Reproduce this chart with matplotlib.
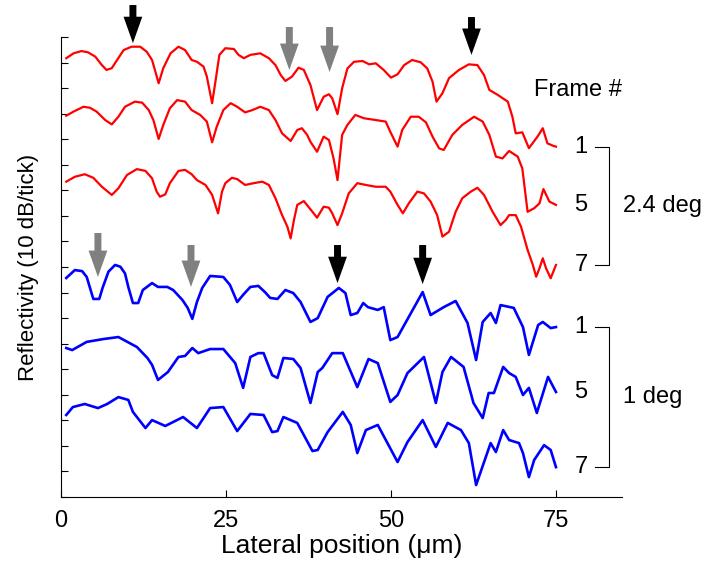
import numpy as np
import matplotlib
matplotlib.use("Agg")
import matplotlib.pyplot as plt

plt.rcParams['font.family'] = ['Liberation Sans', 'DejaVu Sans']

# lateral position (um) and reflectivity (dB) per trace, 2.4 deg scan
red1_x = [0.8, 1.9, 3.1, 4.1, 5.2, 6.2, 6.9, 7.7, 8.5, 9.5, 10.7, 12.0, 13.0, 13.8, 14.8, 15.5, 16.6, 17.8, 18.8,
          19.8, 20.6, 21.6, 22.1, 22.9, 23.4, 24.0, 24.9, 26.2, 26.9, 27.7, 28.7, 30.2, 31.5, 32.5, 33.3, 34.0, 35.0,
          36.0, 36.8, 37.8, 38.8, 39.8, 40.6, 41.1, 41.9, 42.6, 43.4, 44.4, 45.7, 46.7, 47.7, 48.9, 50.0, 51.0, 52.0,
          53.2, 54.5, 55.5, 56.3, 56.9, 57.8, 58.8, 60.3, 61.8, 63.1, 64.1, 64.9, 66.2, 67.7, 68.4, 68.9, 69.9, 70.9,
          72.2, 73.0, 73.7, 74.5, 75.0]
red1_y = [171.7, 173.6, 174.5, 174.0, 172.3, 169.0, 167.1, 167.8, 171.0, 174.9, 176.2, 176.2, 174.2, 171.0, 161.9,
          167.8, 173.6, 176.2, 174.9, 171.0, 170.3, 168.4, 164.5, 154.1, 162.5, 173.0, 175.6, 175.3, 173.0, 171.7, 173.0,
          173.6, 171.7, 169.0, 165.1, 162.8, 164.5, 168.0, 167.1, 161.2, 151.4, 156.6, 157.6, 156.0, 149.8, 159.9, 167.7,
          170.3, 170.6, 169.3, 169.7, 167.1, 164.1, 165.4, 169.0, 171.0, 170.1, 167.7, 162.5, 154.7, 158.0, 163.9, 167.1,
          169.3, 169.0, 165.1, 159.3, 157.3, 154.7, 148.8, 142.3, 142.7, 136.5, 141.0, 144.3, 138.4, 137.5, 137.1]

red5_x = [0.8, 1.9, 3.4, 4.4, 5.4, 6.7, 7.7, 8.7, 9.7, 11.2, 12.3, 13.3, 14.0, 14.8, 15.5, 16.5, 17.6, 18.8, 19.8,
          21.1, 22.1, 22.9, 23.6, 24.6, 25.7, 26.7, 27.9, 29.0, 30.2, 31.5, 32.5, 33.5, 34.8, 35.8, 36.5, 37.3, 37.8,
          38.8, 39.8, 40.6, 41.3, 41.9, 42.6, 43.4, 44.6, 45.9, 47.7, 49.2, 49.9, 51.0, 51.7, 53.0, 54.2, 55.3, 56.3,
          57.3, 58.0, 59.3, 60.8, 62.6, 63.9, 64.9, 65.9, 66.9, 67.9, 69.2, 69.9, 70.7, 71.7, 72.5, 73.1, 74.0, 75.0]
red5_y = [149.2, 150.8, 152.7, 152.3, 150.8, 147.5, 145.8, 148.8, 152.7, 154.7, 154.3, 151.4, 147.5, 140.1, 145.6,
          152.1, 155.3, 154.7, 151.4, 149.5, 146.9, 138.8, 144.9, 151.4, 154.1, 152.7, 150.5, 151.4, 152.7, 151.4, 147.5,
          142.3, 139.3, 143.6, 144.3, 141.7, 139.0, 135.1, 141.0, 139.7, 132.5, 124.0, 141.7, 145.6, 149.5, 148.2, 147.5,
          146.9, 142.9, 137.1, 143.6, 148.8, 148.8, 146.6, 141.0, 136.4, 135.8, 141.7, 145.6, 148.8, 146.9, 141.7, 133.2,
          132.5, 135.4, 133.2, 128.6, 111.6, 113.0, 114.9, 120.5, 115.6, 114.3]

red7_x = [0.8, 2.1, 3.6, 4.9, 6.2, 7.7, 8.7, 10.0, 11.5, 12.8, 13.8, 14.5, 15.0, 15.8, 16.5, 17.8, 18.8, 19.8, 20.6,
          21.9, 22.9, 23.8, 24.4, 24.9, 25.9, 26.7, 27.9, 29.2, 30.5, 31.5, 32.5, 33.5, 34.3, 34.8, 35.3, 35.8, 36.8,
          38.1, 38.8, 39.8, 40.6, 41.1, 41.9, 42.6, 43.6, 44.9, 46.2, 47.7, 49.2, 49.9, 51.0, 51.8, 52.7, 54.0, 55.0,
          56.0, 57.0, 57.8, 58.8, 59.8, 60.8, 62.1, 63.1, 64.1, 65.4, 66.6, 67.4, 67.9, 68.9, 69.7, 70.7, 71.5, 72.0,
          72.5, 73.0, 73.5, 74.2, 75.0]
red7_y = [123.4, 125.3, 126.3, 124.9, 121.4, 118.2, 120.8, 126.0, 128.3, 127.6, 124.7, 119.5, 117.5, 118.4, 122.8,
          127.6, 128.0, 126.3, 124.0, 122.1, 118.2, 111.0, 119.5, 122.8, 124.9, 124.4, 122.1, 122.8, 123.4, 122.1, 116.9,
          110.3, 105.8, 101.2, 108.4, 114.3, 115.8, 111.6, 109.3, 113.6, 113.2, 111.0, 106.4, 111.0, 118.8, 122.8, 122.1,
          121.4, 121.4, 119.5, 114.3, 111.0, 114.9, 119.5, 118.8, 115.6, 110.3, 101.9, 103.8, 111.6, 116.9, 119.5, 121.0,
          118.2, 111.6, 106.4, 108.4, 110.3, 110.3, 105.8, 96.7, 90.8, 86.2, 89.5, 93.4, 89.5, 85.6, 90.8]

# 1 deg scan
blue1_x = [0.8, 2.1, 3.2, 3.9, 4.9, 5.8, 6.3, 7.2, 8.2, 9.0, 9.7, 10.2, 10.9, 11.7, 12.4, 13.8, 14.7, 16.1, 17.0, 18.4,
           19.2, 19.9, 20.6, 21.4, 22.6, 24.6, 25.6, 26.7, 27.7, 28.7, 29.9, 30.9, 31.7, 32.8, 34.0, 35.2, 36.3, 37.8,
           38.9, 40.4, 42.1, 43.1, 43.9, 44.9, 45.8, 46.5, 48.0, 48.9, 49.9, 51.0, 54.8, 56.0, 58.0, 59.8, 61.6, 62.9,
           63.9, 65.1, 65.9, 66.6, 68.6, 70.0, 70.9, 72.3, 73.0, 74.2, 75.0]
blue1_y = [85.7, 88.8, 88.4, 86.1, 77.5, 77.5, 81.8, 88.2, 90.8, 90.1, 87.5, 82.2, 75.9, 75.9, 81.0, 83.7, 82.2, 82.2,
           81.0, 77.1, 74.0, 69.7, 76.3, 81.8, 86.5, 86.1, 83.0, 76.3, 79.4, 82.2, 82.6, 80.2, 77.9, 77.5, 81.0, 79.8,
           76.3, 68.5, 70.0, 78.3, 81.8, 79.8, 71.2, 72.0, 75.9, 74.3, 73.2, 74.3, 61.4, 62.6, 80.2, 71.2, 74.3, 76.7,
           68.1, 53.6, 68.5, 72.0, 68.1, 75.1, 74.0, 66.5, 55.6, 67.3, 68.5, 66.1, 66.5]

blue5_x = [0.8, 1.7, 3.9, 6.4, 8.7, 11.5, 13.1, 13.8, 14.7, 16.2, 17.8, 18.8, 19.9, 20.8, 22.6, 24.6, 26.4, 27.6, 28.7,
           29.9, 30.7, 32.0, 32.8, 33.7, 35.2, 36.3, 37.8, 38.9, 39.6, 41.1, 42.7, 44.9, 46.6, 48.0, 49.9, 51.0, 52.5,
           55.0, 56.8, 57.8, 59.1, 61.0, 62.5, 63.9, 64.8, 65.6, 67.0, 67.9, 68.9, 70.0, 70.9, 72.1, 73.8, 75.0]
blue5_y = [58.3, 57.5, 60.7, 61.8, 62.6, 58.7, 54.4, 51.7, 45.8, 48.9, 54.8, 55.2, 58.3, 56.3, 57.9, 57.9, 52.4, 42.7,
           54.8, 56.3, 56.3, 47.7, 46.6, 54.4, 54.0, 50.5, 36.8, 48.9, 50.5, 56.3, 56.3, 43.0, 54.0, 52.4, 37.2, 39.9,
           48.5, 54.8, 36.8, 48.9, 54.8, 50.9, 36.8, 30.9, 40.7, 40.7, 50.9, 48.5, 47.0, 39.9, 42.7, 32.9, 47.0, 41.1]

blue7_x = [0.8, 1.8, 3.6, 5.6, 7.0, 8.7, 10.2, 10.9, 12.8, 13.8, 15.8, 18.5, 20.6, 22.6, 24.6, 26.7, 28.7, 30.7, 32.0,
           32.8, 33.7, 35.8, 38.1, 38.9, 40.4, 42.7, 43.9, 44.9, 46.2, 48.0, 51.0, 52.5, 54.8, 56.8, 58.6, 60.6, 61.8,
           62.9, 65.1, 65.9, 67.0, 67.9, 69.4, 70.0, 70.9, 71.7, 73.2, 74.2, 75.0]
blue7_y = [32.1, 35.2, 36.4, 34.8, 36.4, 39.1, 38.0, 33.3, 27.0, 30.1, 27.8, 31.3, 27.0, 34.8, 35.2, 25.8, 32.5, 32.1,
           25.4, 25.8, 31.3, 29.0, 18.0, 18.4, 25.4, 33.3, 28.2, 17.2, 26.2, 28.2, 13.7, 21.5, 30.1, 19.6, 29.0, 26.2,
           21.1, 4.7, 21.1, 17.6, 26.2, 22.3, 21.1, 17.2, 7.8, 14.5, 20.3, 18.4, 11.7]

frames = ['1', '5', '7']

# arrow markers: x position, tail and tip level
arrow_x = [10.9, 34.6, 40.7, 62.2, 5.6, 19.7, 41.9, 54.8]
arrow_top = [192.5, 183.9, 183.9, 187.8, 103.3, 98.6, 98.6, 98.6]
arrow_tip = [177.6, 167.1, 166.3, 173.0, 86.1, 82.2, 83.7, 83.3]
arrow_col = ['black', 'gray', 'gray', 'black', 'gray', 'gray', 'black', 'black']

fig = plt.figure(figsize=(7.14, 5.69), dpi=100)
ax = fig.add_axes([0.0854, 0.1265, 0.7857, 0.8085])

groups = [
    ('red', 1.6, [(red1_x, red1_y), (red5_x, red5_y), (red7_x, red7_y)], '2.4 deg'),
    ('blue', 1.9, [(blue1_x, blue1_y), (blue5_x, blue5_y), (blue7_x, blue7_y)], '1 deg'),
]

for col, lw, traces, lab in groups:
    ends = []
    for (xs, ys), fr in zip(traces, frames):
        ax.plot(xs, ys, color=col, lw=lw)
        ends.append(ys[-1])
        ax.text(78.8, ys[-1], fr, ha='center', va='center', fontsize=17)
    # bracket joining the frame labels
    ax.plot([80.9, 83.0, 83.0, 80.9], [ends[0], ends[0], ends[-1], ends[-1]],
            color='black', lw=0.8, clip_on=False)
    ax.text(85.2, (ends[0] + ends[-1]) / 2, lab, ha='left', va='center', fontsize=17, clip_on=False)

ax.text(85.0, 159.3, 'Frame #', ha='right', va='center', fontsize=17)

for x, top, tip, c in zip(arrow_x, arrow_top, arrow_tip, arrow_col):
    ax.annotate('', xy=(x, tip), xytext=(x, top), annotation_clip=False,
                arrowprops=dict(arrowstyle='simple,head_length=1.9,head_width=1.35,tail_width=0.5',
                                mutation_scale=10, color=c, shrinkA=0, shrinkB=0, lw=0))

ax.set_xlim(0, 85)
ax.set_ylim(0, 180)
ax.set_xticks([0, 25, 50, 75])
ax.set_yticks(np.arange(0, 181, 10))
ax.set_yticklabels([])
ax.tick_params(direction='in', length=5, width=0.8, labelsize=17, pad=9)
ax.spines['top'].set_visible(False)
ax.spines['right'].set_visible(False)
for s in ['left', 'bottom']:
    ax.spines[s].set_linewidth(0.8)
ax.set_xlabel('Lateral position (\u03bcm)', fontsize=19, labelpad=2)
ax.set_ylabel('Reflectivity (10 dB/tick)', fontsize=16, labelpad=7)

fig.savefig('out.png', dpi=100)
